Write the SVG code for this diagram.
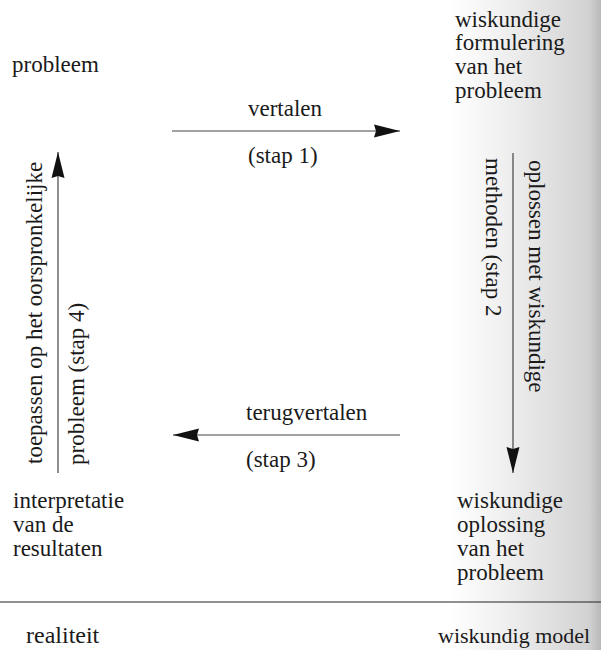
<svg xmlns="http://www.w3.org/2000/svg" width="601" height="650" viewBox="0 0 601 650" font-family="'Liberation Serif', 'DejaVu Serif', serif">
<defs>
<linearGradient id="shade" x1="0" y1="0" x2="1" y2="0">
<stop offset="0" stop-color="#ffffff"/>
<stop offset="0.35" stop-color="#f0f0f0"/>
<stop offset="0.7" stop-color="#dedede"/>
<stop offset="0.92" stop-color="#d2d2d2"/>
<stop offset="1" stop-color="#b8b8b8"/>
</linearGradient>
<marker id="ah" viewBox="0 0 26 14" refX="26" refY="7" markerWidth="26" markerHeight="14" markerUnits="userSpaceOnUse" orient="auto">
<path d="M0,0.5 L26,7 L0,13.5 L2,7 Z" fill="#111"/>
</marker>
<style>
text{font-family:'Liberation Serif','DejaVu Serif',serif;font-size:23px;fill:#1a1a1a}
.ln{stroke:#444;stroke-width:1.2;fill:none}
.big{font-size:22px}
.rl{font-size:24px}
</style>
</defs>
<rect width="601" height="650" fill="#fff"/>
<rect x="450" y="0" width="151" height="650" fill="url(#shade)"/>

<g id="node-probleem"><text x="12" y="72">probleem</text></g>
<g id="node-formulering">
<text x="455" y="27">wiskundige</text>
<text x="455" y="50">formulering</text>
<text x="455" y="74">van het</text>
<text x="455" y="98">probleem</text>
</g>
<g id="node-oplossing">
<text x="457" y="508">wiskundige</text>
<text x="457" y="532">oplossing</text>
<text x="457" y="556">van het</text>
<text x="457" y="580">probleem</text>
</g>
<g id="node-interpretatie">
<text x="13" y="508">interpretatie</text>
<text x="13" y="532">van de</text>
<text x="13" y="556">resultaten</text>
</g>

<g id="connectors">
<line class="ln" x1="172" y1="131" x2="400" y2="131" marker-end="url(#ah)"/>
<line class="ln" x1="513" y1="153" x2="513" y2="473" marker-end="url(#ah)"/>
<line class="ln" x1="400" y1="435" x2="173" y2="435" marker-end="url(#ah)"/>
<line class="ln" x1="58" y1="473" x2="58" y2="152" marker-end="url(#ah)"/>
</g>

<g id="labels">
<text x="248" y="116">vertalen</text>
<text x="248" y="163">(stap 1)</text>
<text x="246" y="420">terugvertalen</text>
<text x="246" y="467">(stap 3)</text>
<text transform="translate(529,160) rotate(90)">oplossen met wiskundige</text>
<text transform="translate(486,158) rotate(90)">methoden (stap 2</text>
<text transform="translate(42,464) rotate(-90)">toepassen op het oorspronkelijke</text>
<text transform="translate(84,465) rotate(-90)">probleem (stap 4)</text>
</g>

<g id="divider">
<line x1="0" y1="602" x2="601" y2="602" stroke="#222" stroke-width="1.2"/>
<text class="rl" x="26" y="643">realiteit</text>
<text class="big" x="438" y="643">wiskundig model</text>
</g>
</svg>
